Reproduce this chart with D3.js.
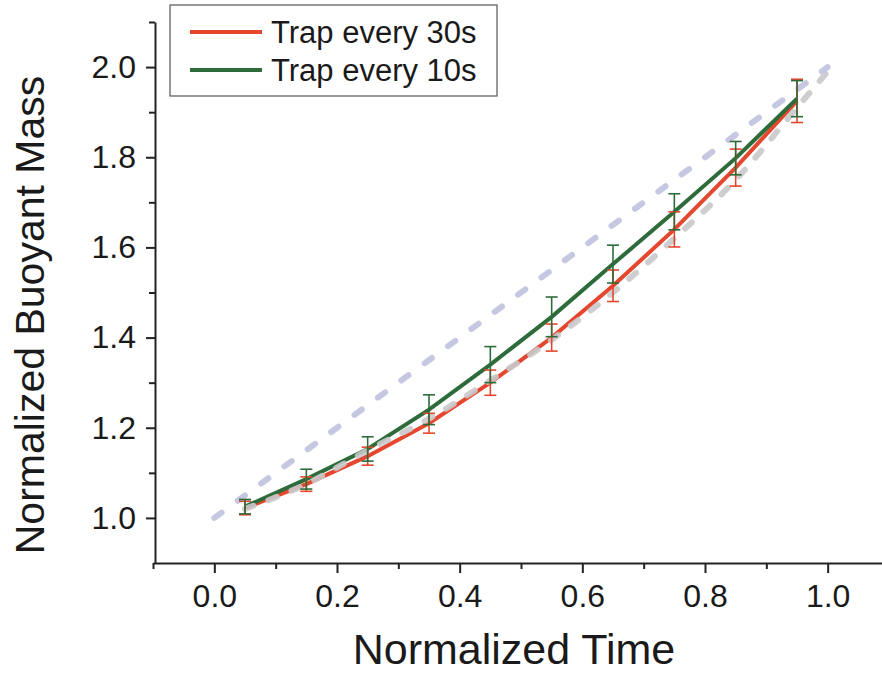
<!DOCTYPE html>
<html>
<head>
<meta charset="utf-8">
<script src="https://cdn.jsdelivr.net/npm/d3@7"></script>
<style>
  body { margin: 0; background: #fff; }
  text { font-family: "Liberation Sans", Arial, sans-serif; fill: #1a1a1a; }
</style>
</head>
<body>
<div id="chart"></div>
<script>
// data
let times = [0.05, 0.15, 0.25, 0.35, 0.45, 0.55, 0.65, 0.75, 0.85, 0.95]
let mass30 = [1.022, 1.075, 1.137, 1.21, 1.30, 1.40, 1.515, 1.64, 1.777, 1.925]
let err30 = [0.015, 0.016, 0.02, 0.022, 0.028, 0.03, 0.035, 0.039, 0.041, 0.048]
let mass10 = [1.025, 1.086, 1.153, 1.24, 1.34, 1.446, 1.563, 1.679, 1.798, 1.93]
let err10 = [0.016, 0.022, 0.027, 0.033, 0.04, 0.044, 0.042, 0.04, 0.037, 0.04]

// pale reference curves
let linearT = [0.0, 1.0]
let linearM = [1.0, 2.0]
let curveT = [0.05, 0.15, 0.25, 0.35, 0.45, 0.55, 0.65, 0.75, 0.85, 0.95, 1.0]
let curveM = [1.02, 1.075, 1.15, 1.22, 1.305, 1.395, 1.50, 1.62, 1.75, 1.91, 1.99]

let xMajor = [0, 0.2, 0.4, 0.6, 0.8, 1.0]
let xMinor = [-0.1, 0.1, 0.3, 0.5, 0.7, 0.9]
let yMajor = [1.0, 1.2, 1.4, 1.6, 1.8, 2.0]
let yMinor = [1.1, 1.3, 1.5, 1.7, 1.9, 2.1]

let legendNames = ['Trap every 30s', 'Trap every 10s']
let red = '#e5472e'
let green = '#2e6b3a'

let width = 882
let height = 676

let svg = d3
  .select('#chart')
  .append('svg')
  .attr('width', width)
  .attr('height', height)

let xPositionScale = d3.scaleLinear().domain([-0.1, 1.1]).range([153, 889])
let yPositionScale = d3.scaleLinear().domain([0.9, 2.1]).range([563, 22])

let line = d3
  .line()
  .x(d => xPositionScale(d.t))
  .y(d => yPositionScale(d.m))

let series30 = times.map((t, i) => ({ t: t, m: mass30[i], e: err30[i] }))
let series10 = times.map((t, i) => ({ t: t, m: mass10[i], e: err10[i] }))

// lines
svg
  .append('path')
  .datum(series30)
  .attr('d', line)
  .attr('fill', 'none')
  .attr('stroke', red)
  .attr('stroke-width', 4)

svg
  .append('path')
  .datum(series10)
  .attr('d', line)
  .attr('fill', 'none')
  .attr('stroke', green)
  .attr('stroke-width', 4)

// gray dashed curve and lavender straight line
svg
  .append('path')
  .datum(curveT.map((t, i) => ({ t: t, m: curveM[i] })))
  .attr('d', line.curve(d3.curveMonotoneX))
  .attr('fill', 'none')
  .attr('stroke', '#c9c9cc')
  .attr('stroke-width', 6)
  .attr('stroke-linecap', 'round')
  .attr('stroke-dasharray', '9 16')
  .attr('opacity', 0.9)

line.curve(d3.curveLinear)

svg
  .append('path')
  .datum(linearT.map((t, i) => ({ t: t, m: linearM[i] })))
  .attr('d', line)
  .attr('fill', 'none')
  .attr('stroke', '#c6c8e2')
  .attr('stroke-width', 6)
  .attr('stroke-linecap', 'round')
  .attr('stroke-dasharray', '9 20')

// error bars
function errorBars(data, color) {
  let g = svg.append('g').attr('stroke', color).attr('stroke-width', 1.6)
  data.forEach(d => {
    let x = xPositionScale(d.t)
    let y0 = yPositionScale(d.m - d.e)
    let y1 = yPositionScale(d.m + d.e)
    g.append('line').attr('x1', x).attr('x2', x).attr('y1', y0).attr('y2', y1)
    g.append('line').attr('x1', x - 6).attr('x2', x + 6).attr('y1', y0).attr('y2', y0)
    g.append('line').attr('x1', x - 6).attr('x2', x + 6).attr('y1', y1).attr('y2', y1)
  })
}
errorBars(series30, red)
errorBars(series10, green)

// axes
let xAxis = svg
  .append('g')
  .attr('transform', 'translate(0,563)')
  .call(
    d3.axisBottom(xPositionScale)
      .tickValues(xMajor)
      .tickSize(10)
      .tickSizeOuter(0)
      .tickPadding(11)
      .tickFormat(d3.format('.1f'))
  )
xAxis.select('.domain').attr('stroke', '#222').attr('stroke-width', 2)
xAxis.selectAll('.tick line').attr('stroke', '#222').attr('stroke-width', 2)
xAxis.selectAll('text').attr('font-size', 32).attr('fill', '#1a1a1a')
  .style('font-family', '"Liberation Sans", Arial, sans-serif')

let xMinorAxis = svg
  .append('g')
  .attr('transform', 'translate(0,563)')
  .call(d3.axisBottom(xPositionScale).tickValues(xMinor).tickSize(6).tickSizeOuter(0).tickFormat(''))
xMinorAxis.select('.domain').remove()
xMinorAxis.selectAll('.tick line').attr('stroke', '#222').attr('stroke-width', 2)

let yAxis = svg
  .append('g')
  .attr('transform', 'translate(155,0)')
  .call(
    d3.axisLeft(yPositionScale)
      .tickValues(yMajor)
      .tickSize(9)
      .tickSizeOuter(0)
      .tickPadding(10)
      .tickFormat(d3.format('.1f'))
  )
yAxis.select('.domain').attr('stroke', '#222').attr('stroke-width', 2)
yAxis.selectAll('.tick line').attr('stroke', '#222').attr('stroke-width', 2)
yAxis.selectAll('text').attr('font-size', 32).attr('fill', '#1a1a1a')
  .style('font-family', '"Liberation Sans", Arial, sans-serif')

let yMinorAxis = svg
  .append('g')
  .attr('transform', 'translate(155,0)')
  .call(d3.axisLeft(yPositionScale).tickValues(yMinor).tickSize(6).tickSizeOuter(0).tickFormat(''))
yMinorAxis.select('.domain').remove()
yMinorAxis.selectAll('.tick line').attr('stroke', '#222').attr('stroke-width', 2)

// axis titles
svg
  .append('text')
  .attr('x', 514)
  .attr('y', 664)
  .attr('text-anchor', 'middle')
  .attr('font-size', 43)
  .text('Normalized Time')

svg
  .append('text')
  .attr('transform', 'translate(44,315) rotate(-90)')
  .attr('text-anchor', 'middle')
  .attr('font-size', 41)
  .text('Normalized Buoyant Mass')

// legend
let legend = svg.append('g')
legend
  .append('rect')
  .attr('x', 170)
  .attr('y', 5)
  .attr('width', 327)
  .attr('height', 91)
  .attr('fill', '#fff')
  .attr('stroke', '#555')
  .attr('stroke-width', 1.2)

legend
  .selectAll('.legend-item')
  .data(legendNames)
  .enter()
  .append('g')
  .attr('class', 'legend-item')
  .each(function(d, i) {
    let g = d3.select(this)
    let y = 32 + i * 38
    g.append('line')
      .attr('x1', 190)
      .attr('x2', 262)
      .attr('y1', y)
      .attr('y2', y)
      .attr('stroke', i === 0 ? red : green)
      .attr('stroke-width', 4)
    g.append('text')
      .attr('x', 271)
      .attr('y', y + 11)
      .attr('font-size', 31)
      .text(d)
  })
</script>
</body>
</html>
